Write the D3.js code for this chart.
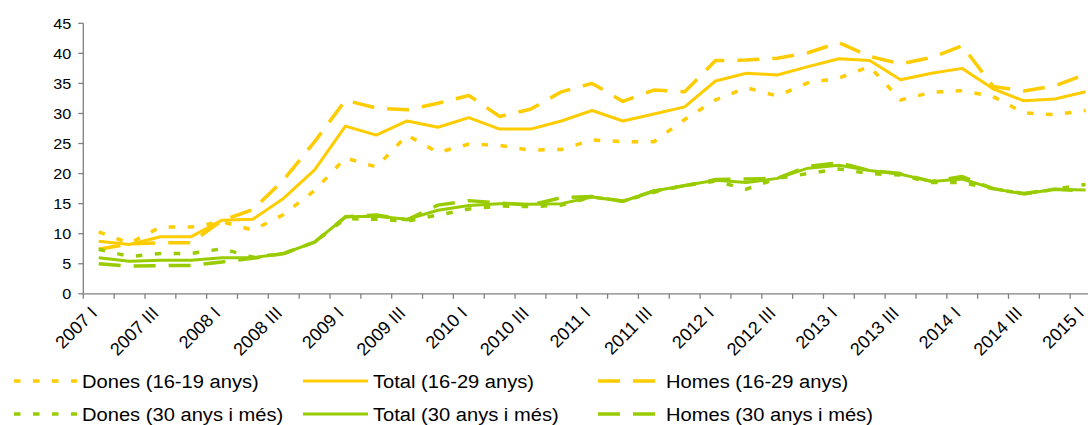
<!DOCTYPE html>
<html><head><meta charset="utf-8">
<script src="https://cdn.jsdelivr.net/npm/d3@7"></script>
<style>
body{margin:0;background:#fff}
svg{display:block}
text{font-family:"Liberation Sans",Arial,sans-serif;fill:#000}
</style>
</head><body>
<svg id="c" width="1088" height="425"></svg>
<script>
const years = ["2007","2008","2009","2010","2011","2012","2013","2014","2015"];
const romans = ["I","II","III","IV"];
const quarters = [];
years.forEach(y => romans.forEach(r => { if (!(y === "2015" && r !== "I")) quarters.push(y + " " + r); }));
const tickLabels = quarters.filter((q, i) => i % 2 === 0);
const yTicks = [0,5,10,15,20,25,30,35,40,45];

const donesJoves = [10.3,8.4,11.1,11.1,12.0,10.6,13.2,17.2,22.6,21.1,26.4,23.5,24.9,24.7,23.9,24.0,25.6,25.3,25.3,29.0,32.25,34.3,32.9,35.1,35.9,37.8,32.25,33.5,33.8,32.8,30.1,29.8,30.5];
const totalJoves = [8.75,8.2,9.5,9.5,12.25,12.4,15.9,20.6,27.9,26.4,28.75,27.7,29.3,27.4,27.4,28.75,30.5,28.75,29.9,31.1,35.4,36.7,36.4,37.8,39.1,38.8,35.6,36.7,37.5,34.1,32.1,32.4,33.6];
const homesJoves = [7.4,8.3,8.5,8.5,12.2,14.0,19.0,25.3,32.2,30.9,30.6,31.7,33.0,29.5,30.7,33.6,35.0,32.0,33.9,33.6,38.8,38.9,39.2,40.1,41.8,39.5,38.25,39.3,41.25,34.5,33.75,34.6,36.5];
const donesGrans = [7.4,6.2,6.7,6.7,7.5,6.1,6.7,8.6,12.5,12.4,12.1,13.1,14.1,14.6,14.5,14.75,16.1,15.4,16.9,18.0,18.75,17.4,19.2,20.0,20.75,20.0,19.75,18.5,18.5,17.5,16.6,17.4,18.2];
const totalGrans = [6.0,5.4,5.6,5.6,6.0,6.0,6.7,8.6,12.8,12.9,12.4,13.9,14.7,15.0,14.9,15.0,16.1,15.4,17.1,18.0,18.9,18.5,19.2,20.9,21.4,20.5,19.9,18.7,19.1,17.5,16.6,17.4,17.25];
const homesGrans = [5.0,4.6,4.7,4.7,5.3,5.9,6.7,8.6,12.8,13.1,12.3,14.75,15.5,15.1,14.75,16.0,16.2,15.4,17.1,18.0,19.0,19.1,19.2,21.2,21.8,20.5,20.0,18.7,19.5,17.5,16.7,17.4,17.1];

const seriesNames = ["Dones (16-19 anys)","Total (16-29 anys)","Homes (16-29 anys)","Dones (30 anys i més)","Total (30 anys i més)","Homes (30 anys i més)"];

const YEL = "#FFCC00", GRN = "#99CC00";
const DOT = "6.5,12.5", DASH = "22,13";
const series = [
  {name: seriesNames[0], values: donesJoves, color: YEL, dash: DOT, w: 3.5},
  {name: seriesNames[1], values: totalJoves, color: YEL, dash: null, w: 3},
  {name: seriesNames[2], values: homesJoves, color: YEL, dash: DASH, w: 3.5},
  {name: seriesNames[3], values: donesGrans, color: GRN, dash: DOT, w: 3.5},
  {name: seriesNames[4], values: totalGrans, color: GRN, dash: null, w: 3},
  {name: seriesNames[5], values: homesGrans, color: GRN, dash: DASH, w: 3.5}
];

const svg = d3.select("#c");
const x0 = 83.3, step = 30.84;
const x = d3.scaleBand().domain(quarters).range([x0, x0 + step * quarters.length]).padding(0);
const y = d3.scaleLinear().domain([0, 45]).range([293.8, 23.3]);
const axisCol = "#808080";

// y axis
const gy = svg.append("g");
gy.append("line").attr("x1", x0).attr("x2", x0).attr("y1", y(0)).attr("y2", y(45)).attr("stroke", axisCol).attr("stroke-width", 1.3);
yTicks.forEach(t => {
  gy.append("line").attr("x1", x0 - 5).attr("x2", x0).attr("y1", y(t)).attr("y2", y(t)).attr("stroke", axisCol).attr("stroke-width", 1.3);
  gy.append("text").attr("transform", `translate(${x0 - 12},${y(t)}) scale(1.08,1)`)
    .attr("text-anchor", "end").attr("dy", "0.36em").style("font-size", "15px").text(t);
});

// x axis
const gx = svg.append("g");
gx.append("line").attr("x1", x0).attr("x2", x0 + step * quarters.length).attr("y1", y(0)).attr("y2", y(0)).attr("stroke", axisCol).attr("stroke-width", 1.3);
quarters.concat(["__end"]).forEach((q, i) => {
  const xx = i < quarters.length ? x(q) : x(quarters[quarters.length - 1]) + x.bandwidth();
  gx.append("line").attr("x1", xx).attr("x2", xx).attr("y1", y(0)).attr("y2", y(0) + 5).attr("stroke", axisCol).attr("stroke-width", 1.3);
});
tickLabels.forEach(q => {
  const cx = x(q) + x.bandwidth() / 2;
  gx.append("text").attr("transform", `translate(${cx - 5},${y(0) + 16}) rotate(-45)`)
    .attr("text-anchor", "end").attr("dy", "0.35em").style("font-size", "18px").text(q);
});

// lines
const line = d3.line().x((d, i) => x(quarters[i]) + x.bandwidth() / 2).y(d => y(d));
series.forEach(s => {
  svg.append("path").datum(s.values).attr("d", line).attr("fill", "none")
    .attr("stroke", s.color).attr("stroke-width", s.w)
    .attr("stroke-dasharray", s.dash).attr("stroke-linejoin", "round");
});

// legend
const legX = [[14, 77, 82], [303, 368, 373], [598, 656, 666]];
const legY = [381, 414];
series.forEach((s, i) => {
  const row = Math.floor(i / 3), col = i % 3;
  const [a, b, t] = legX[col];
  const yy = legY[row];
  svg.append("line").attr("x1", a).attr("x2", b).attr("y1", yy).attr("y2", yy)
    .attr("stroke", s.color).attr("stroke-width", s.w).attr("stroke-dasharray", s.dash);
  svg.append("text").attr("transform", `translate(${t},${yy}) scale(1.06,1)`)
    .attr("dy", "0.36em").style("font-size", "19px").text(s.name);
});
</script>
</body></html>
